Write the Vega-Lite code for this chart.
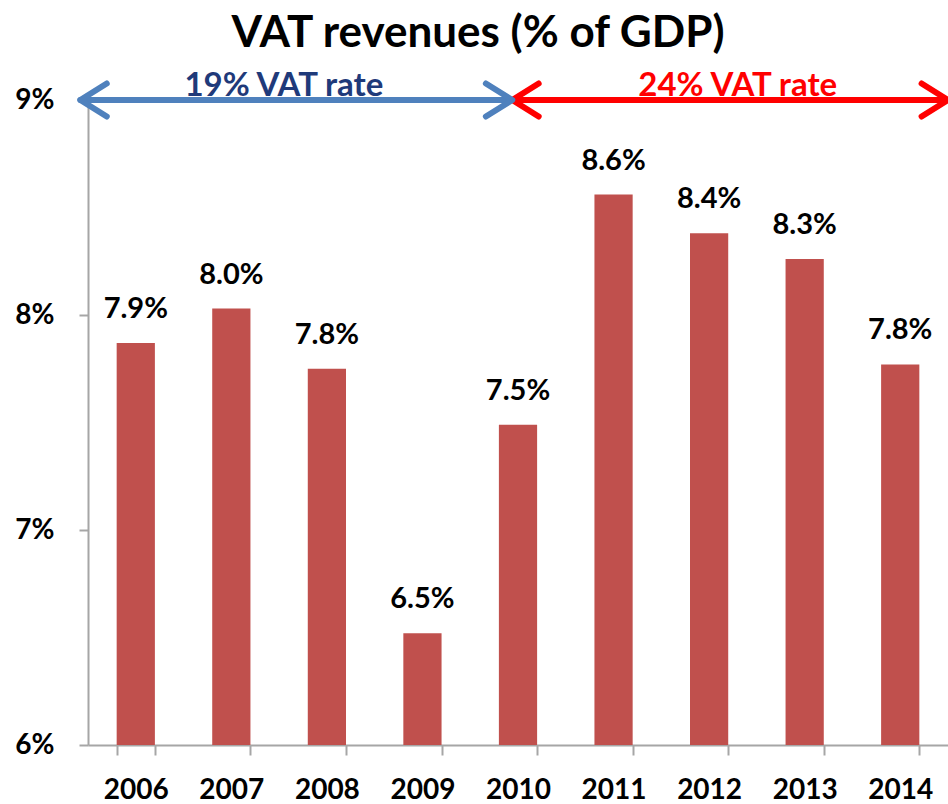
{
  "$schema": "https://vega.github.io/schema/vega-lite/v6.json",
  "width": 860,
  "height": 645,
  "autosize": {"type": "none"},
  "padding": {"left": 88, "top": 100, "right": 0, "bottom": 59},
  "background": "white",
  "config": {"view": {"stroke": null}, "font": "Lato"},
  "title": {"text": "VAT revenues (% of GDP)", "fontSize": 44, "font": "Lato", "fontWeight": "bold", "color": "#000000", "anchor": "middle", "dx": -40, "offset": 14},
  "datasets": {
    "vat": [
      {"year": "2006", "value": 7.87},
      {"year": "2007", "value": 8.03},
      {"year": "2008", "value": 7.75},
      {"year": "2009", "value": 6.52},
      {"year": "2010", "value": 7.49},
      {"year": "2011", "value": 8.56},
      {"year": "2012", "value": 8.38},
      {"year": "2013", "value": 8.26},
      {"year": "2014", "value": 7.77}
    ],
    "periods": [
      {"label": "19% VAT rate", "from": 2005.42, "to": 2009.94, "mid": 2007.55, "level": 9},
      {"label": "24% VAT rate", "from": 2009.94, "to": 2014.5, "mid": 2012.3, "level": 9}
    ]
  },
  "resolve": {"scale": {"x": "independent"}},
  "layer": [
    {
      "data": {"name": "vat"},
      "transform": [{"calculate": "format(datum.value, '.1f') + '%'", "as": "label"}],
      "layer": [
        {
          "mark": {"type": "bar", "color": "#C0504D"},
          "encoding": {
            "x": {"field": "year", "type": "nominal", "sort": null,
              "scale": {"paddingInner": 0.6, "paddingOuter": 0.3},
              "axis": {"title": null, "labelAngle": 0, "labelFont": "Lato", "labelFontSize": 28, "labelFontWeight": "bold", "labelColor": "#000000", "labelPadding": 21, "domainColor": "#A6A6A6", "domainWidth": 2, "tickColor": "#A6A6A6", "tickWidth": 2, "tickSize": 10, "tickBand": "extent"}},
            "y": {"field": "value", "type": "quantitative",
              "scale": {"domain": [6, 9], "nice": false, "zero": false},
              "axis": {"title": null, "values": [6, 7, 8, 9], "labelExpr": "datum.value + '%'", "labelFont": "Lato", "labelFontSize": 28, "labelFontWeight": "bold", "labelColor": "#000000", "labelPadding": 25, "grid": false, "domainColor": "#A6A6A6", "domainWidth": 2, "tickColor": "#A6A6A6", "tickWidth": 2, "tickSize": 9}},
            "y2": {"datum": 6}
          }
        },
        {
          "mark": {"type": "text", "font": "Lato", "fontSize": 29, "fontWeight": "bold", "color": "#000000", "baseline": "middle", "dy": -34},
          "encoding": {
            "x": {"field": "year", "type": "nominal", "sort": null},
            "y": {"field": "value", "type": "quantitative"},
            "text": {"field": "label", "type": "nominal"}
          }
        }
      ]
    },
    {
      "data": {"name": "periods"},
      "encoding": {
        "y": {"field": "level", "type": "quantitative"}
      },
      "layer": [
        {
          "mark": {"type": "rule", "strokeWidth": 6, "strokeCap": "round"},
          "encoding": {
            "x": {"field": "from", "type": "quantitative", "scale": {"domain": [2005.5, 2014.5], "nice": false, "zero": false}, "axis": null},
            "x2": {"field": "to"},
            "color": {"field": "label", "type": "nominal", "scale": {"domain": ["19% VAT rate", "24% VAT rate"], "range": ["#4F81BD", "#FF0000"]}, "legend": null}
          }
        },
        {
          "mark": {"type": "point", "shape": "M1.6,-1L0,0L1.6,1", "size": 1089, "filled": false, "strokeWidth": 6, "opacity": 1, "strokeCap": "round", "strokeJoin": "round"},
          "encoding": {
            "x": {"field": "from", "type": "quantitative"},
            "color": {"field": "label", "type": "nominal", "legend": null}
          }
        },
        {
          "mark": {"type": "point", "shape": "M-1.6,-1L0,0L-1.6,1", "size": 1089, "filled": false, "strokeWidth": 6, "opacity": 1, "strokeCap": "round", "strokeJoin": "round"},
          "encoding": {
            "x": {"field": "to", "type": "quantitative"},
            "color": {"field": "label", "type": "nominal", "legend": null}
          }
        },
        {
          "mark": {"type": "text", "font": "Lato", "fontSize": 33, "fontWeight": "bold", "baseline": "middle"},
          "encoding": {
            "x": {"field": "mid", "type": "quantitative"},
            "text": {"field": "label"},
            "yOffset": {"condition": {"test": "datum.label === '19% VAT rate'", "value": -20}, "value": -14},
            "color": {"condition": {"test": "datum.label === '19% VAT rate'", "value": "#1F3A7A"}, "value": "#FF0000"}
          }
        }
      ]
    }
  ]
}
